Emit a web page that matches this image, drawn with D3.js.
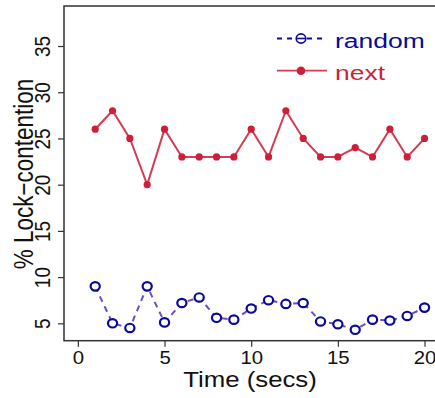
<!DOCTYPE html>
<html>
<head>
<meta charset="utf-8">
<script src="https://cdn.jsdelivr.net/npm/d3@7/dist/d3.min.js"></script>
<style>
  html, body { margin: 0; padding: 0; background: #fff; }
  svg { display: block; }
  svg text { font-family: "Liberation Sans", Arial, Helvetica, sans-serif; font-weight: normal; }
</style>
</head>
<body>
<svg id="chart" width="435" height="398"></svg>
<script>
// Sample times (seconds)
const times = [1, 2, 3, 4, 5, 6, 7, 8, 9, 10, 11, 12, 13, 14, 15, 16, 17, 18, 19, 20];
// Lock contention (%) for each policy
const randomVals = [9.0, 5.0, 4.5, 9.0, 5.1, 7.2, 7.8, 5.6, 5.4, 6.6, 7.5, 7.1, 7.2, 5.2, 4.9, 4.3, 5.4, 5.3, 5.8, 6.7];
const nextVals   = [26, 28, 25, 20, 26, 23, 23, 23, 23, 26, 23, 28, 25, 23, 23, 24, 23, 26, 23, 25];
// Axis ticks
const xTicks = [0, 5, 10, 15, 20];
const yTicks = [5, 10, 15, 20, 25, 30, 35];
const seriesNames = ["random", "next"];

(function draw() {
  const svg = d3.select("#chart");
  const stretch = 1.2;           // horizontal glyph widening used for the text
  const plotLeft = 64, plotTop = 6, plotBottom = 340.7, plotRight = 438.4;

  const x = d3.scaleLinear().domain([-0.8, 20.8]).range([plotLeft, plotRight]);
  const y = d3.scaleLinear().domain([3.12, 39.33]).range([plotBottom, plotTop]);

  const blueDot = "#0a0a96", blueLine = "#6d4fbf";
  const redDot = "#cf1f38", redLine = "#d43d52";

  // Bottom axis
  const gx = svg.append("g")
    .attr("transform", `translate(0,${plotBottom})`)
    .call(d3.axisBottom(x).tickValues(xTicks).tickSize(6).tickSizeOuter(0).tickFormat(d3.format("d")))
    .attr("font-family", null).attr("font-size", null);
  gx.select(".domain").remove();
  gx.selectAll(".tick line").attr("stroke", "#333").attr("stroke-width", 1.2);
  gx.selectAll(".tick text")
    .attr("y", 23).attr("dy", 0)
    .attr("transform", `scale(1.1,1)`)
    .attr("fill", "#111")
    .style("font-size", "18.5px");

  // Left axis
  const gy = svg.append("g")
    .attr("transform", `translate(${plotLeft},0)`)
    .call(d3.axisLeft(y).tickValues(yTicks).tickSize(6).tickSizeOuter(0).tickFormat(d3.format("d")))
    .attr("font-family", null).attr("font-size", null);
  gy.select(".domain").remove();
  gy.selectAll(".tick line").attr("stroke", "#333").attr("stroke-width", 1.2);
  gy.selectAll(".tick text")
    .attr("x", 0).attr("dy", 0)
    .attr("text-anchor", "middle")
    .attr("transform", `translate(-14,0) scale(1.12,1) rotate(-90)`)
    .attr("fill", "#111")
    .style("font-size", "19px");

  // Plot frame
  svg.append("rect")
    .attr("x", plotLeft).attr("y", plotTop)
    .attr("width", plotRight - plotLeft).attr("height", plotBottom - plotTop)
    .attr("fill", "none").attr("stroke", "#333").attr("stroke-width", 1.5);

  // Axis titles
  svg.append("text")
    .attr("transform", `translate(250,387) scale(${stretch},1)`)
    .attr("text-anchor", "middle")
    .attr("fill", "#111")
    .style("font-size", "21.5px")
    .text("Time (secs)");

  svg.append("text")
    .attr("transform", `translate(33,174) scale(${stretch},1) rotate(-90)`)
    .attr("text-anchor", "middle")
    .attr("fill", "#111")
    .style("font-size", "22.5px")
    .text("% Lock\u2212contention");

  // Series
  const line = d3.line().x((d, i) => x(times[i])).y(d => y(d));

  svg.append("path")
    .datum(nextVals)
    .attr("d", line)
    .attr("fill", "none").attr("stroke", redLine).attr("stroke-width", 2);

  svg.selectAll(".next-pt").data(nextVals).enter().append("circle")
    .attr("class", "next-pt")
    .attr("cx", (d, i) => x(times[i])).attr("cy", d => y(d))
    .attr("r", 3.6).attr("fill", redDot);

  svg.append("path")
    .datum(randomVals)
    .attr("d", line)
    .attr("fill", "none").attr("stroke", blueLine).attr("stroke-width", 2)
    .attr("stroke-dasharray", "6,5");

  svg.selectAll(".random-pt").data(randomVals).enter().append("ellipse")
    .attr("class", "random-pt")
    .attr("cx", (d, i) => x(times[i])).attr("cy", d => y(d))
    .attr("rx", 4.6).attr("ry", 4.2)
    .attr("fill", "#fff").attr("stroke", blueDot).attr("stroke-width", 2.2);

  // Legend
  const legend = svg.append("g");
  const rows = [
    { name: seriesNames[0], y: 38.5, color: blueDot, lineColor: blueDot, dashed: true },
    { name: seriesNames[1], y: 70.7, color: redDot, lineColor: redLine, dashed: false }
  ];
  rows.forEach(r => {
    legend.append("line")
      .attr("x1", 277).attr("x2", 327).attr("y1", r.y).attr("y2", r.y)
      .attr("stroke", r.lineColor).attr("stroke-width", 1.8)
      .attr("stroke-dasharray", r.dashed ? "5,5" : null);
    if (r.dashed) {
      legend.append("ellipse").attr("cx", 301).attr("cy", r.y).attr("rx", 4.8).attr("ry", 4.6)
        .attr("fill", "#fff").attr("stroke", r.color).attr("stroke-width", 1.6);
      legend.append("line").attr("x1", 297).attr("x2", 305).attr("y1", r.y).attr("y2", r.y)
        .attr("stroke", r.color).attr("stroke-width", 1.6);
    } else {
      legend.append("circle").attr("cx", 301).attr("cy", r.y).attr("r", 4.3).attr("fill", r.color);
    }
    legend.append("text")
      .attr("transform", `translate(335,${r.y + 9}) scale(${stretch + 0.06},1)`)
      .attr("fill", r.color)
      .style("font-size", "21px")
      .text(r.name);
  });
})();
</script>
</body>
</html>
